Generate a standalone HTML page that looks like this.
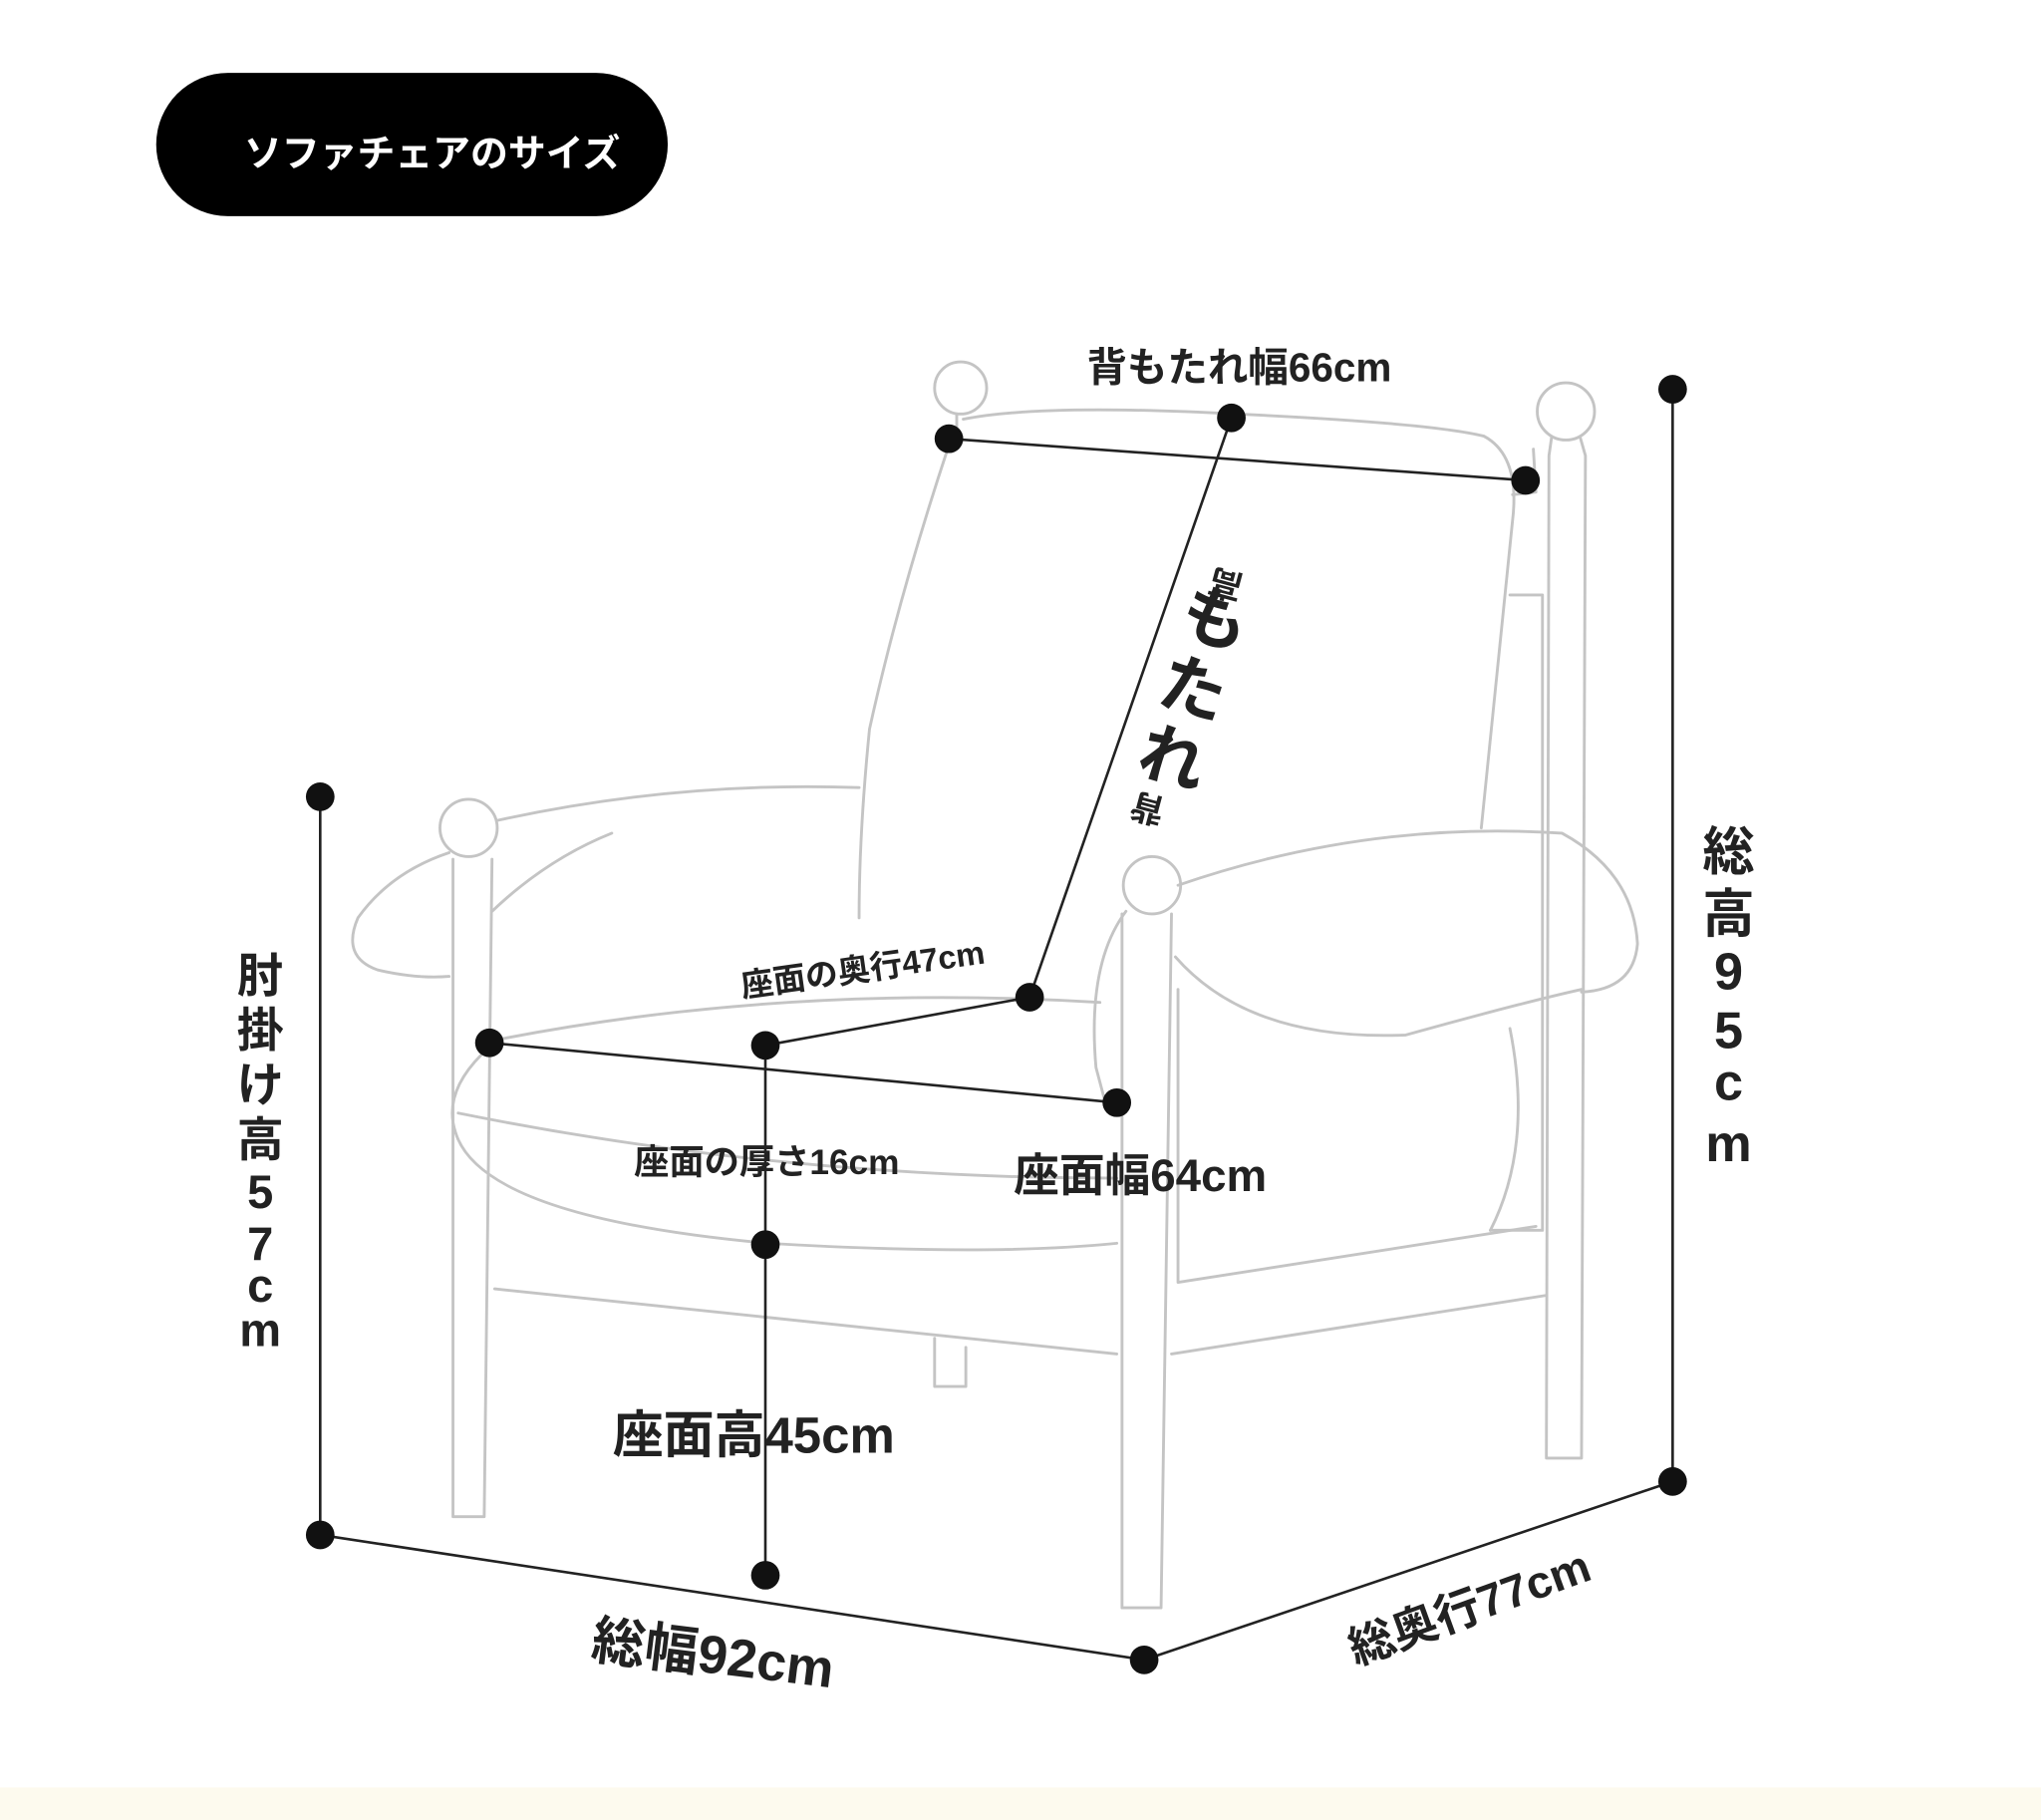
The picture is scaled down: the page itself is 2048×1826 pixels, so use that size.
<!DOCTYPE html>
<html><head><meta charset="utf-8"><style>
html,body{margin:0;padding:0;background:#fff;width:2048px;height:1826px;overflow:hidden}
svg{display:block}
text{font-family:"Liberation Sans","Noto Sans CJK JP",sans-serif;font-weight:bold;fill:#222}
</style></head><body>
<svg width="2048" height="1826" viewBox="0 0 1568 1398" preserveAspectRatio="none" xmlns="http://www.w3.org/2000/svg">
<rect x="0" y="1373" width="1568" height="25" fill="#fdfaee"/>
<rect x="120" y="56" width="393" height="110" rx="55" fill="#000"/>
<text x="332" y="128" font-size="29" text-anchor="middle" style="fill:#fff">ソファチェアのサイズ</text>

<g fill="none" stroke="#c4c4c4" stroke-width="2.2" stroke-linejoin="round" stroke-linecap="round">
<circle cx="738" cy="298" r="20"/>
<path d="M735,318 L735,330"/>
<path d="M740,322 Q800,310 950,318 Q1100,325 1140,335 Q1168,350 1162,400 L1138,636"/>
<path d="M728,345 Q690,460 668,560 Q660,640 660,705"/>
<path d="M1162,380 L1180,378 L1178,345"/>
<circle cx="1203" cy="316" r="22"/>
<path d="M1192,336 L1190,350 L1188,1120 L1215,1120 L1218,350 L1214,336"/>
<path d="M1160,457 L1185,457 L1185,945 L1145,945"/>
<circle cx="360" cy="636" r="22"/>
<path d="M383,630 Q520,600 660,605"/>
<path d="M345,655 Q300,670 275,705 Q262,735 290,745 Q320,752 345,750"/>
<path d="M348,660 L348,1165 L372,1165 L378,660"/>
<path d="M378,700 Q420,660 470,640"/>
<path d="M375,800 Q600,755 845,770"/>
<path d="M370,810 Q340,840 350,870 Q370,935 590,955 Q760,965 858,955"/>
<path d="M352,855 Q600,905 858,905"/>
<circle cx="885" cy="680" r="22"/>
<path d="M865,700 Q835,740 842,820 L850,850"/>
<path d="M862,702 L862,1235 L892,1235 L900,702"/>
<path d="M905,680 Q1050,630 1200,640 Q1255,670 1258,725 Q1255,760 1215,762"/>
<path d="M903,735 Q960,800 1080,795 Q1170,770 1215,760"/>
<path d="M905,760 L905,985 L1180,942"/>
<path d="M1160,790 Q1178,880 1145,945"/>
<path d="M380,990 L858,1040"/>
<path d="M900,1040 L1188,995"/>
<path d="M718,1028 L718,1065 L742,1065 L742,1035"/>
</g>

<g stroke="#222" stroke-width="2" fill="none">
<path d="M729,337 L1172,369"/>
<path d="M946,321 L791,766"/>
<path d="M791,766 L588,803"/>
<path d="M376,801 L858,847"/>
<path d="M588,803 L588,1210"/>
<path d="M246,612 L246,1179"/>
<path d="M246,1179 L879,1275"/>
<path d="M879,1275 L1285,1138"/>
<path d="M1285,299 L1285,1138"/>
</g>
<g fill="#111">
<circle cx="729" cy="337" r="11"/><circle cx="1172" cy="369" r="11"/>
<circle cx="946" cy="321" r="11"/><circle cx="791" cy="766" r="11"/>
<circle cx="588" cy="803" r="11"/><circle cx="376" cy="801" r="11"/>
<circle cx="858" cy="847" r="11"/><circle cx="588" cy="956" r="11"/>
<circle cx="588" cy="1210" r="11"/><circle cx="246" cy="612" r="11"/>
<circle cx="246" cy="1179" r="11"/><circle cx="879" cy="1275" r="11"/>
<circle cx="1285" cy="1138" r="11"/><circle cx="1285" cy="299" r="11"/>
</g>

<text x="952" y="293" font-size="31" text-anchor="middle">背もたれ幅66cm</text>
<text transform="translate(664,753) rotate(-8)" font-size="25" text-anchor="middle">座面の奥行47cm</text>
<text x="589" y="902" font-size="27" text-anchor="middle">座面の厚さ16cm</text>
<text x="876" y="915" font-size="35" text-anchor="middle">座面幅64cm</text>
<text x="579" y="1116" font-size="39" text-anchor="middle">座面高45cm</text>
<text transform="translate(546,1285) rotate(7)" font-size="41" text-anchor="middle">総幅92cm</text>
<text transform="translate(1133,1246) rotate(-20)" font-size="35" text-anchor="middle">総奥行77cm</text>
<g font-size="36" text-anchor="middle">
<text x="200" y="762">肘</text><text x="200" y="804">掛</text><text x="200" y="846">け</text><text x="200" y="888">高</text>
<text x="200" y="928">5</text><text x="200" y="968">7</text><text x="200" y="1000">c</text><text x="200" y="1034">m</text>
</g>
<g font-size="40" text-anchor="middle">
<text x="1328" y="668">総</text><text x="1328" y="716">高</text><text x="1328" y="760">9</text>
<text x="1328" y="805">5</text><text x="1328" y="845">c</text><text x="1328" y="892">m</text>
</g>
<g transform="translate(912,528) rotate(17)">
<text x="0" y="0" font-size="52" text-anchor="middle" letter-spacing="4" style="writing-mode:vertical-rl">もたれ</text>
</g>
<text transform="translate(944,440) rotate(195)" font-size="26" text-anchor="middle">高</text>
<text transform="translate(884,612) rotate(195)" font-size="26" text-anchor="middle">背</text>
</svg>
</body></html>
